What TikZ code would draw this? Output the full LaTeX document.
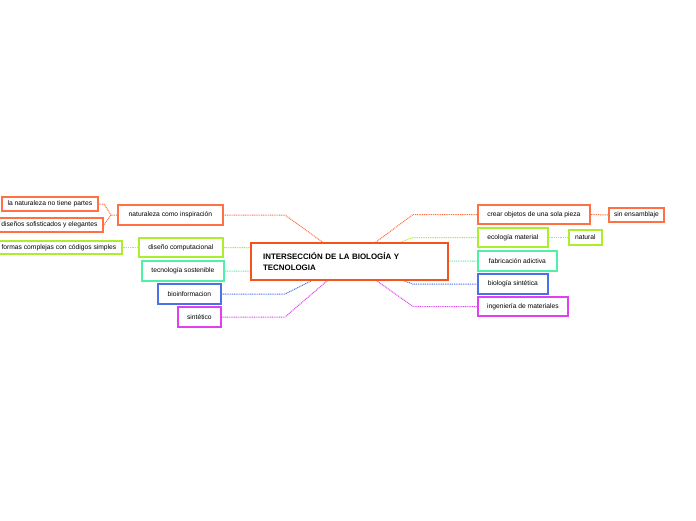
\documentclass[tikz,border=0pt]{standalone}
\usepackage{fontspec}
\setmainfont{Liberation Sans}
\usetikzlibrary{positioning,shadows}
\pgfdeclarelayer{background}
\pgfsetlayers{background,main}
\definecolor{hubcol}{HTML}{F2541B}
\definecolor{orng}{HTML}{FF7043}
\definecolor{lime}{HTML}{ACEE2E}
\definecolor{mint}{HTML}{50F0A8}
\definecolor{blu}{HTML}{4A72E8}
\definecolor{mgnt}{HTML}{E040F0}

\begin{document}
\begin{tikzpicture}[x=1pt, y=-1pt,
        topic/.style={draw=#1, line width=1.8pt, fill=white, anchor=west, inner sep=0pt,
            minimum height=19.5pt, font=\fontsize{6.7}{8}\selectfont,
            drop shadow={shadow xshift=0.6pt, shadow yshift=-0.9pt, fill=black!15}},
        subtopic/.style={topic=#1, minimum height=14pt},
        link/.style={draw=#1, line width=1pt, dash pattern=on 1pt off 0.8pt}]
        \useasboundingbox (0,0) rectangle (696,520);

        \node[draw=hubcol, line width=2.2pt, fill=white, anchor=north west, minimum width=197pt, minimum height=37pt,
            inner xsep=12pt, text width=173pt, align=left, font=\fontsize{7.9}{10.5}\selectfont\bfseries,
            drop shadow={shadow xshift=0.6pt, shadow yshift=-0.9pt, fill=black!15}]
            (hub) at (250,242) {INTERSECCIÓN DE LA BIOLOGÍA Y\\TECNOLOGIA};

        \begin{scope}
            \node[topic=orng, minimum width=105pt] (inspiracion) at (117,215) {naturaleza como inspiración};
            \node[subtopic=orng, minimum width=96pt] (partes) at (1,204) {la naturaleza no tiene partes};
            \node[subtopic=orng, minimum width=107pt] (elegantes) at (-5,225) {diseños sofisticados y elegantes};
            \node[topic=lime, minimum width=84pt] (computacional) at (138,247.5) {diseño computacional};
            \node[subtopic=lime, minimum width=126pt, minimum height=13.5pt] (formas) at (-5,247.5) {formas complejas con códigos simples};
            \node[topic=mint, minimum width=82pt] (sostenible) at (141,271) {tecnología sostenible};
            \node[topic=blu, minimum width=63pt] (bioinfo) at (157,294) {bioinformacion};
            \node[topic=mgnt, minimum width=43pt] (sintetico) at (177,317) {sintético};
        \end{scope}

        \begin{scope}
            \node[topic=orng, minimum width=112pt] (pieza) at (477,214.5) {crear objetos de una sola pieza};
            \node[subtopic=orng, minimum width=55pt] (ensamblaje) at (608,215) {sin ensamblaje};
            \node[topic=lime, minimum width=70pt] (ecologia) at (477,237.5) {ecología material};
            \node[subtopic=lime, minimum width=33pt, minimum height=15pt] (natural) at (568,237.5) {natural};
            \node[topic=mint, minimum width=79pt] (aditiva) at (477,261) {fabricación adictiva};
            \node[topic=blu, minimum width=70pt] (biosint) at (477,284) {biología sintética};
            \node[topic=mgnt, minimum width=90pt] (materiales) at (477,306.5) {ingeniería de materiales};
        \end{scope}

        \begin{pgfonlayer}{background}
            \draw[link=orng] (hub.center) -- (285,215) -- (inspiracion.east);
            \draw[link=lime] (hub.center) -- (285,247.5) -- (computacional.east);
            \draw[link=mint] (hub.center) -- (285,271) -- (sostenible.east);
            \draw[link=blu] (hub.center) -- (285,294) -- (bioinfo.east);
            \draw[link=mgnt] (hub.center) -- (285,317) -- (sintetico.east);

            \draw[link=orng] (hub.center) -- (413,214.5) -- (pieza.west);
            \draw[link=lime] (hub.center) -- (413,237.5) -- (ecologia.west);
            \draw[link=mint] (hub.center) -- (413,261) -- (aditiva.west);
            \draw[link=blu] (hub.center) -- (413,284) -- (biosint.west);
            \draw[link=mgnt] (hub.center) -- (413,306.5) -- (materiales.west);

            \coordinate (knot) at (111,215);
            \draw[link=orng] (inspiracion.west) -- (knot) -- (104,204) -- (partes.east);
            \draw[link=orng] (knot) -- (elegantes.east);
            \draw[link=lime] (computacional.west) -- (formas.east);
            \draw[link=orng] (pieza.east) -- (ensamblaje.west);
            \draw[link=lime] (ecologia.east) -- (natural.west);
        \end{pgfonlayer}
\end{tikzpicture}
\end{document}
